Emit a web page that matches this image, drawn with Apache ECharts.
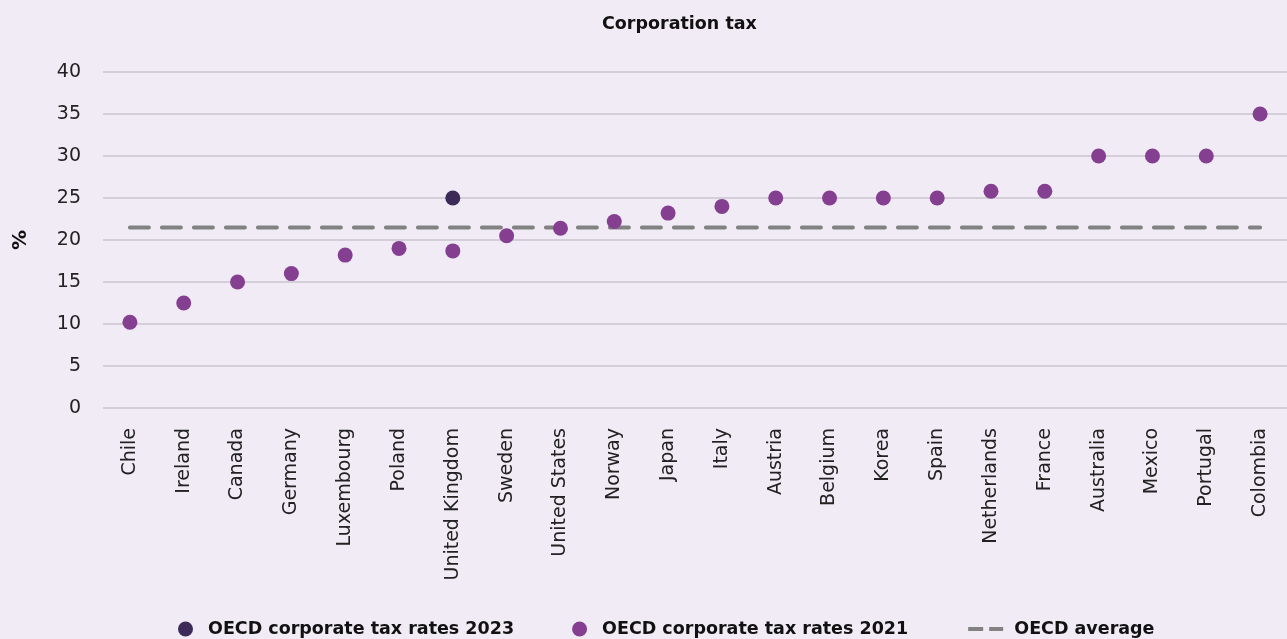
<!DOCTYPE html>
<html>
<head>
<meta charset="utf-8">
<script src="https://cdn.jsdelivr.net/npm/echarts@6/dist/echarts.min.js"></script>
<style>
html,body{margin:0;padding:0;background:#f1ebf6;}
#chart{width:1287px;height:639px;}
</style>
</head>
<body>
<div id="chart"></div>
<script>
const categories = ["Chile","Ireland","Canada","Germany","Luxembourg","Poland","United Kingdom","Sweden","United States","Norway","Japan","Italy","Austria","Belgium","Korea","Spain","Netherlands","France","Australia","Mexico","Portugal","Colombia"];
const rates2021 = [10.2,12.5,15,16,18.2,19,18.7,20.5,21.4,22.2,23.2,24,25,25,25,25,25.8,25.8,30,30,30,35];
const rates2023 = [null,null,null,null,null,null,25,null,null,null,null,null,null,null,null,null,null,null,null,null,null,null];
const oecdAverage = [21.5,21.5,21.5,21.5,21.5,21.5,21.5,21.5,21.5,21.5,21.5,21.5,21.5,21.5,21.5,21.5,21.5,21.5,21.5,21.5,21.5,21.5];
const yTicks = [0,5,10,15,20,25,30,35,40];

const FONT = 'DejaVu Sans';
const chart = echarts.init(document.getElementById('chart'), null, {renderer:'canvas'});
chart.setOption({
  backgroundColor:'#f1ebf6',
  animation:false,
  title:{text:'Corporation tax',left:597,top:10,textStyle:{fontFamily:FONT,fontSize:17.5,fontWeight:'bold',color:'#111'}},
  grid:{left:103,right:-3,top:72,bottom:231,containLabel:false},
  legend:{top:615,left:173,itemGap:58,itemWidth:35,itemHeight:15,
    textStyle:{fontFamily:FONT,fontSize:17.5,fontWeight:'bold',color:'#111'},
    formatter:function(name){return name==='OECD average' ? ' '+name : name;},
    data:[{name:'OECD corporate tax rates 2023',icon:'circle'},
          {name:'OECD corporate tax rates 2021',icon:'circle'},
          {name:'OECD average',lineStyle:{type:[15,6],width:4,cap:'butt'},itemStyle:{color:'rgba(0,0,0,0)',borderWidth:0}}]},
  xAxis:{type:'category',data:categories,boundaryGap:true,
    axisLine:{show:false},axisTick:{show:false},
    axisLabel:{rotate:90,interval:0,margin:20,fontFamily:FONT,fontSize:19,color:'#222'}},
  yAxis:{type:'value',min:yTicks[0],max:yTicks[yTicks.length-1],interval:5,
    name:'%',nameLocation:'middle',nameGap:72,nameRotate:90,
    nameTextStyle:{fontFamily:FONT,fontSize:20,fontWeight:'bold',color:'#111'},
    axisLine:{show:false},axisTick:{show:false},
    axisLabel:{margin:22,fontFamily:FONT,fontSize:19,color:'#222'},
    splitLine:{lineStyle:{color:'#c9c5cc',width:1.5}}},
  series:[
    {name:'OECD average',type:'line',data:oecdAverage,symbol:'none',z:1,
      lineStyle:{color:'#828282',width:4,type:[19,13],cap:'round'},itemStyle:{color:'rgba(0,0,0,0)'}},
    {name:'OECD corporate tax rates 2023',type:'scatter',data:rates2023,symbolSize:15,z:3,
      itemStyle:{color:'#3c2a58',opacity:1}},
    {name:'OECD corporate tax rates 2021',type:'scatter',data:rates2021,symbolSize:15,z:3,
      itemStyle:{color:'#843f91',opacity:1}}
  ]
});
</script>
</body>
</html>
